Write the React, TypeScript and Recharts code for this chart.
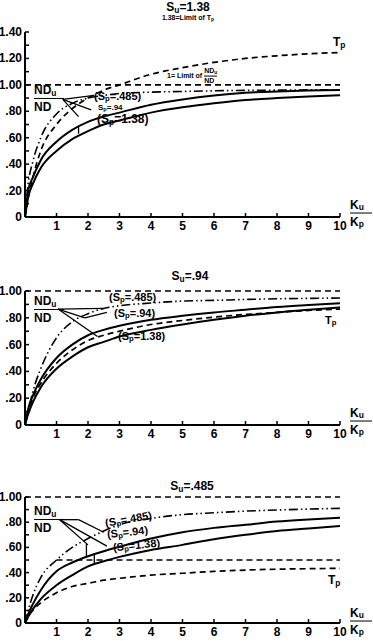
import React from "react";
import { LineChart, Line, XAxis, YAxis, ReferenceLine } from "recharts";

// K_u / K_p sample points (x axis)
const kValues = [0, 0.1, 0.25, 0.5, 1, 1.5, 2, 2.5, 3, 4, 5, 6, 7, 8, 9, 10];
const xTicks = [0, 1, 2, 3, 4, 5, 6, 7, 8, 9, 10];

// panel 1 : Su = 1.38
const p1Tp = [0, 0.14, 0.3, 0.5, 0.7, 0.82, 0.9, 0.96, 1.0, 1.08, 1.13, 1.17, 1.2, 1.22, 1.235, 1.245];
const p1Sp485 = [0, 0.25, 0.42, 0.6, 0.78, 0.86, 0.9, 0.92, 0.935, 0.945, 0.95, 0.955, 0.958, 0.96, 0.962, 0.963];
const p1Sp94 = [0, 0.2, 0.3, 0.43, 0.57, 0.66, 0.72, 0.76, 0.79, 0.85, 0.89, 0.92, 0.94, 0.95, 0.957, 0.962];
const p1Sp138 = [0, 0.15, 0.25, 0.37, 0.5, 0.59, 0.65, 0.7, 0.73, 0.79, 0.83, 0.86, 0.885, 0.9, 0.912, 0.922];

// panel 2 : Su = .94
const p2Tp = [0, 0.1, 0.2, 0.31, 0.46, 0.56, 0.63, 0.67, 0.7, 0.75, 0.78, 0.805, 0.825, 0.84, 0.855, 0.865];
const p2Sp485 = [0, 0.1, 0.25, 0.42, 0.65, 0.77, 0.83, 0.87, 0.89, 0.91, 0.925, 0.93, 0.937, 0.942, 0.945, 0.948];
const p2Sp94 = [0, 0.12, 0.22, 0.34, 0.5, 0.6, 0.67, 0.71, 0.74, 0.785, 0.815, 0.84, 0.86, 0.88, 0.895, 0.908];
const p2Sp138 = [0, 0.08, 0.17, 0.28, 0.42, 0.51, 0.58, 0.62, 0.66, 0.71, 0.75, 0.785, 0.815, 0.84, 0.86, 0.878];

// panel 3 : Su = .485
const p3Tp = [0, 0.05, 0.1, 0.16, 0.24, 0.29, 0.315, 0.34, 0.355, 0.38, 0.395, 0.41, 0.42, 0.427, 0.431, 0.434];
const p3Sp485 = [0, 0.1, 0.22, 0.36, 0.5, 0.6, 0.67, 0.73, 0.78, 0.83, 0.86, 0.875, 0.888, 0.897, 0.904, 0.91];
const p3Sp94 = [0, 0.07, 0.15, 0.26, 0.41, 0.48, 0.53, 0.57, 0.605, 0.67, 0.72, 0.755, 0.78, 0.805, 0.822, 0.836];
const p3Sp138 = [0, 0.05, 0.11, 0.19, 0.3, 0.38, 0.45, 0.49, 0.525, 0.58, 0.62, 0.665, 0.7, 0.73, 0.75, 0.77];

const FONT = "'Liberation Sans', Arial, sans-serif";
const DASH = "6 4";
const DASH_DOT_DOT = "9 3 1.5 3 1.5 3";

const build = (tp: number[], a: number[], b: number[], c: number[]) =>
  kValues.map((k, i) => ({ k, tp: tp[i], sp485: a[i], sp94: b[i], sp138: c[i] }));

const fmtY = (v: number) => {
  if (v === 0) return "0";
  const s = v.toFixed(2);
  return s.startsWith("0") ? s.slice(1) : s;
};

const YTick = (props: any) => {
  const { x, y, payload } = props;
  const v = Math.round(payload.value * 100) / 100;
  const major = Math.round(v * 10) % 2 === 0;
  const ax = x + 3;
  return (
    <g>
      <line x1={ax} x2={ax + 4} y1={y} y2={y} stroke="#000" strokeWidth={1.5} />
      {major && (
        <text x={x} y={y} textAnchor="end" dominantBaseline="central" fontSize={12} fontWeight={700} fontFamily={FONT} fill="#000">
          {fmtY(v)}
        </text>
      )}
    </g>
  );
};

const XTick = (props: any) => {
  const { x, y, payload } = props;
  const v = payload.value;
  const ay = y - 2;
  return (
    <g>
      <line x1={x} x2={x} y1={ay} y2={ay - 4} stroke="#000" strokeWidth={1.5} />
      {v !== 0 && (
        <text x={x} y={y + 7} textAnchor="middle" dominantBaseline="central" fontSize={12} fontWeight={700} fontFamily={FONT} fill="#000">
          {v}
        </text>
      )}
    </g>
  );
};

type Seg = [number, number, number, number];

interface PanelProps {
  top: number;
  height: number;
  mTop: number;
  mBottom: number;
  yMax: number;
  data: any[];
  limitLine: boolean;
  halfLine?: boolean;
  leaders: Seg[];
}

function Panel({ top, height, mTop, mBottom, yMax, data, halfLine, leaders }: PanelProps) {
  const yTicks: number[] = [];
  for (let i = 0; i <= Math.round(yMax * 10); i++) yTicks.push(i / 10);
  return (
    <div style={{ position: "absolute", left: 0, top }}>
      <LineChart width={373} height={height} data={data} margin={{ top: mTop, right: 33, left: 0, bottom: mBottom }}>
        <XAxis
          dataKey="k"
          type="number"
          domain={[0, 10]}
          ticks={xTicks}
          height={18}
          tickSize={0}
          tickMargin={2}
          tick={<XTick />}
          axisLine={{ stroke: "#000", strokeWidth: 2 }}
          interval={0}
        />
        <YAxis
          type="number"
          domain={[0, yMax]}
          ticks={yTicks}
          width={25}
          tickSize={0}
          tickMargin={3}
          tick={<YTick />}
          axisLine={{ stroke: "#000", strokeWidth: 2 }}
          interval={0}
        />
        <ReferenceLine y={1} stroke="#000" strokeWidth={1.6} strokeDasharray={DASH} />
        {halfLine && (
          <ReferenceLine segment={[{ x: 1, y: 0.5 }, { x: 10, y: 0.5 }]} stroke="#000" strokeWidth={1.6} strokeDasharray={DASH} />
        )}
        {leaders.map((s, i) => (
          <ReferenceLine key={i} segment={[{ x: s[0], y: s[1] }, { x: s[2], y: s[3] }]} stroke="#000" strokeWidth={1.3} />
        ))}
        <Line type="monotone" dataKey="tp" stroke="#000" strokeWidth={1.7} strokeDasharray={DASH} dot={false} isAnimationActive={false} />
        <Line type="monotone" dataKey="sp485" stroke="#000" strokeWidth={1.6} strokeDasharray={DASH_DOT_DOT} dot={false} isAnimationActive={false} />
        <Line type="monotone" dataKey="sp94" stroke="#000" strokeWidth={2} dot={false} isAnimationActive={false} />
        <Line type="monotone" dataKey="sp138" stroke="#000" strokeWidth={2} dot={false} isAnimationActive={false} />
      </LineChart>
    </div>
  );
}

const T = ({ x, y, size = 12, center = false, children, rot = 0 }: any) => (
  <div
    style={{
      position: "absolute",
      left: x,
      top: y,
      transform: `translate(${center ? "-50%" : "0"}, -50%) rotate(${rot}deg)`,
      fontSize: size,
      fontWeight: 700,
      fontFamily: FONT,
      lineHeight: 1,
      whiteSpace: "nowrap",
      color: "#000",
    }}
  >
    {children}
  </div>
);

const Frac = ({ x, y, top, bottom, size = 12, width }: any) => (
  <div
    style={{
      position: "absolute",
      left: x,
      top: y,
      transform: "translateY(-50%)",
      fontSize: size,
      fontWeight: 700,
      fontFamily: FONT,
      lineHeight: 1.05,
      color: "#000",
      width,
    }}
  >
    <div style={{ borderBottom: "1.5px solid #000", paddingBottom: 1 }}>{top}</div>
    <div style={{ paddingTop: 2 }}>{bottom}</div>
  </div>
);

const sub = (s: string) => <sub style={{ fontSize: "0.7em", verticalAlign: "-0.2em" }}>{s}</sub>;

export default function App() {
  const d1 = build(p1Tp, p1Sp485, p1Sp94, p1Sp138);
  const d2 = build(p2Tp, p2Sp485, p2Sp94, p2Sp138);
  const d3 = build(p3Tp, p3Sp485, p3Sp94, p3Sp138);

  return (
    <div style={{ position: "absolute", left: 0, top: 0, width: 373, height: 641, background: "#fff", overflow: "hidden" }}>
      <Panel
        top={0}
        height={240}
        mTop={32}
        mBottom={5}
        yMax={1.4}
        data={d1}
        limitLine
        leaders={[
          [1.2, 0.89, 2.2, 0.92],
          [1.2, 0.89, 2.1, 0.81],
          [1.2, 0.89, 1.7, 0.76],
          [1.7, 0.63, 1.7, 0.69],
        ]}
      />
      <Panel
        top={240}
        height={210}
        mTop={51}
        mBottom={7}
        yMax={1}
        data={d2}
        limitLine
        leaders={[
          [1.05, 0.865, 2.5, 0.87],
          [1.05, 0.865, 1.9, 0.8],
          [1.9, 0.8, 2.6, 0.84],
          [1.05, 0.865, 2.3, 0.66],
        ]}
      />
      <Panel
        top={450}
        height={191}
        mTop={47}
        mBottom={0}
        yMax={1}
        data={d3}
        limitLine
        halfLine
        leaders={[
          [1.1, 0.82, 1.7, 0.82],
          [1.7, 0.82, 2.5, 0.72],
          [1.1, 0.82, 2.6, 0.61],
          [1.1, 0.82, 2.0, 0.62],
          [1.95, 0.53, 1.95, 0.63],
          [2.2, 0.46, 2.2, 0.54],
        ]}
      />

      {/* panel 1 text */}
      <T x={188} y={8} center>S{sub("u")}=1.38</T>
      <T x={188} y={18} size={7} center>1.38=Limit of T{sub("p")}</T>
      <T x={333} y={43}>T{sub("p")}</T>
      <div style={{ position: "absolute", left: 167, top: 75, transform: "translateY(-50%)", display: "flex", alignItems: "center", fontFamily: FONT, fontWeight: 700, fontSize: 7 }}>
        <span>1= Limit of&nbsp;</span>
        <div style={{ lineHeight: 1 }}>
          <div style={{ borderBottom: "1px solid #000" }}>ND{sub("u")}</div>
          <div>ND</div>
        </div>
      </div>
      <Frac x={34} y={99} top={<span>ND{sub("u")}</span>} bottom="ND" width={30} />
      <T x={94} y={97} size={11}>(S{sub("p")}=.485)</T>
      <T x={98} y={108} size={8}>S{sub("p")}=.94</T>
      <T x={97} y={120} size={12}>(S{sub("p")}=1.38)</T>
      <Frac x={350} y={214} top={<span>K{sub("u")}</span>} bottom={<span>K{sub("p")}</span>} width={22} />

      {/* panel 2 text */}
      <T x={190} y={277} center>S{sub("u")}=.94</T>
      <Frac x={34} y={310} top={<span>ND{sub("u")}</span>} bottom="ND" width={30} />
      <T x={109} y={298} size={11}>(S{sub("p")}=.485)</T>
      <T x={114} y={314} size={11}>(S{sub("p")}=.94)</T>
      <T x={118} y={337} size={11}>(S{sub("p")}=1.38)</T>
      <T x={325} y={321} size={11}>T{sub("p")}</T>
      <Frac x={350} y={422} top={<span>K{sub("u")}</span>} bottom={<span>K{sub("p")}</span>} width={22} />

      {/* panel 3 text */}
      <T x={192} y={487} center>S{sub("u")}=.485</T>
      <Frac x={34} y={520} top={<span>ND{sub("u")}</span>} bottom="ND" width={30} />
      <T x={105} y={520} size={11} rot={-10}>(S{sub("p")}=.485)</T>
      <T x={107} y={533} size={11} rot={-6}>(S{sub("p")}=.94)</T>
      <T x={113} y={546} size={11} rot={-6}>(S{sub("p")}=1.38)</T>
      <T x={328} y={581} size={12}>T{sub("p")}</T>
      <Frac x={350} y={622} top={<span>K{sub("u")}</span>} bottom={<span>K{sub("p")}</span>} width={22} />
    </div>
  );
}
